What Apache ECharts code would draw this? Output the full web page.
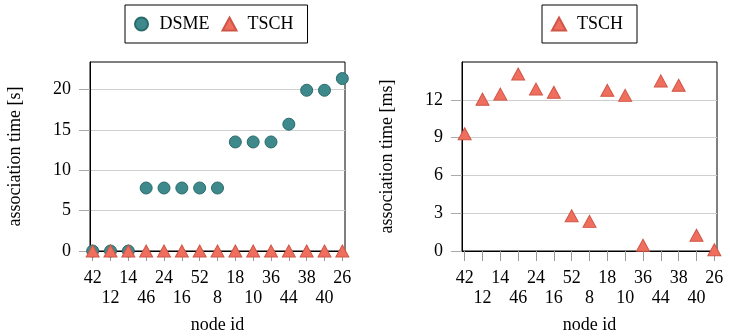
<!DOCTYPE html>
<html>
<head>
<meta charset="utf-8">
<script src="https://cdn.jsdelivr.net/npm/echarts@6/dist/echarts.min.js"></script>
<style>html,body{margin:0;padding:0;background:#fff;}#c{width:730px;height:336px;}</style>
</head>
<body>
<div id="c"></div>
<script>
const nodeIds = ['42','12','14','46','24','16','52','8','18','10','36','44','38','40','26'];
const dsmeSeconds = [0, 0, 0, 7.8, 7.8, 7.8, 7.8, 7.8, 13.5, 13.5, 13.5, 15.7, 19.9, 19.9, 21.35];
const tschSeconds = [0, 0, 0, 0, 0, 0, 0, 0, 0, 0, 0, 0, 0, 0, 0];
const tschMs = [9.3, 12.05, 12.45, 14.05, 12.85, 12.6, 2.8, 2.35, 12.75, 12.35, 0.45, 13.5, 13.15, 1.25, 0.1];
const leftTicks = [0, 5, 10, 15, 20];
const rightTicks = [0, 3, 6, 9, 12];

const FONT = '"Liberation Serif", "Times New Roman", serif';
const DSME_COLOR = '#3e898b', DSME_EDGE = '#2b6a6c';
const TSCH_COLOR = '#ef6e5e', TSCH_EDGE = '#cf5646';
const idx = nodeIds.map((_, i) => i);
const pairs = arr => arr.map((v, i) => [i, v]);

function xAxis(gridIndex) {
  return {
    type: 'value', gridIndex, min: -0.15, max: nodeIds.length - 1 + 0.15,
    name: 'node id', nameLocation: 'middle', nameGap: 65,
    nameTextStyle: { fontFamily: FONT, fontSize: 18, color: '#000' },
    axisLine: { show: true, onZero: false, lineStyle: { color: '#000', width: 1 } },
    axisTick: { show: true, customValues: idx, length: 10, lineStyle: { color: '#999' } },
    axisLabel: {
      customValues: idx, margin: 17, fontFamily: FONT, fontSize: 18, color: '#000', lineHeight: 20,
      formatter: v => { const i = Math.round(v); return i % 2 ? '\n' + nodeIds[i] : nodeIds[i]; }
    },
    splitLine: { show: false }
  };
}
function yAxis(gridIndex, max, ticks, name) {
  return {
    type: 'value', gridIndex, min: 0, max,
    name, nameLocation: 'middle', nameGap: 66,
    nameTextStyle: { fontFamily: FONT, fontSize: 18, color: '#000' },
    axisLine: { show: true, onZero: false, lineStyle: { color: '#000', width: 1 } },
    axisTick: { show: true, customValues: ticks, length: 11, lineStyle: { color: '#aaa' } },
    axisLabel: { customValues: ticks, margin: 19, fontFamily: FONT, fontSize: 18, color: '#000' },
    splitLine: { show: true, lineStyle: { color: '#cfcfcf', width: 1 } }
  };
}
const legendCommon = {
  orient: 'horizontal', top: 5, borderColor: '#000', borderWidth: 1,
  padding: [10, 14, 10, 9], itemGap: 12, itemWidth: 14, itemHeight: 13,
  textStyle: { fontFamily: FONT, fontSize: 18, color: '#000', padding: [0, 0, 0, 6] },
  selectedMode: false
};

const chart = echarts.init(document.getElementById('c'), null, { renderer: 'canvas' });
chart.setOption({
  animation: false,
  backgroundColor: '#fff',
  legend: [
    Object.assign({}, legendCommon, { left: 125, data: ['DSME', 'TSCH'] }),
    Object.assign({}, legendCommon, { left: 542, data: ['TSCH'] })
  ],
  grid: [
    { left: 90, top: 62, width: 255, height: 189, show: true, borderColor: '#000', borderWidth: 1,
      containLabel: false, outerBoundsMode: 'none' },
    { left: 462, top: 62, width: 255, height: 189, show: true, borderColor: '#000', borderWidth: 1,
      containLabel: false, outerBoundsMode: 'none' }
  ],
  xAxis: [xAxis(0), xAxis(1)],
  yAxis: [
    yAxis(0, 23.4, leftTicks, 'association time [s]'),
    yAxis(1, 15, rightTicks, 'association time [ms]')
  ],
  series: [
    { name: 'DSME', type: 'scatter', xAxisIndex: 0, yAxisIndex: 0, data: pairs(dsmeSeconds),
      symbol: 'circle', symbolSize: 12,
      itemStyle: { color: DSME_COLOR, borderColor: DSME_EDGE, borderWidth: 1, opacity: 1 } },
    { name: 'TSCH', type: 'scatter', xAxisIndex: 0, yAxisIndex: 0, data: pairs(tschSeconds),
      symbol: 'triangle', symbolSize: [13, 12],
      itemStyle: { color: TSCH_COLOR, borderColor: TSCH_EDGE, borderWidth: 1, opacity: 1 } },
    { name: 'TSCH', type: 'scatter', xAxisIndex: 1, yAxisIndex: 1, data: pairs(tschMs),
      symbol: 'triangle', symbolSize: [13, 12],
      itemStyle: { color: TSCH_COLOR, borderColor: TSCH_EDGE, borderWidth: 1, opacity: 1 } }
  ]
});
</script>
</body>
</html>
